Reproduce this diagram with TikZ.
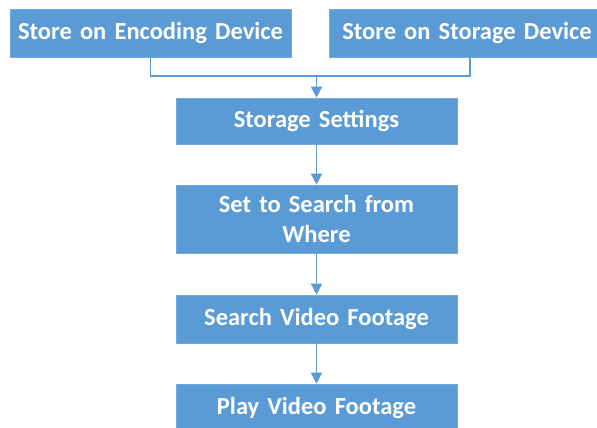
\documentclass[tikz,border=0pt]{standalone}
\usepackage{fontspec}
\setmainfont{Carlito}
\usetikzlibrary{arrows.meta,calc}
\definecolor{boxblue}{HTML}{5B9BD5}
\tikzset{
  flowbox/.style={fill=boxblue, draw=boxblue!85!white, line width=0.6pt, text=white,
    font=\bfseries\fontsize{24.5}{30}\selectfont, align=center, inner sep=0pt,
    minimum width=281pt, minimum height=48pt, text width=275pt},
  conn/.style={draw=boxblue, line width=1.4pt},
  arr/.style={conn, -{Triangle[width=11pt,length=11pt]}}
}
\begin{document}
\begin{tikzpicture}[x=1pt,y=-1pt]
\useasboundingbox (0,0) rectangle (597,428);
\node[flowbox] (b1) at (150.5,33) {Store on Encoding Device};
\node[flowbox, minimum width=268pt, text width=266pt] (b2) at (463,33) {\hspace*{8pt}Store on Storage Device};
\node[flowbox, minimum height=46pt] (b3) at (316.5,121) {Storage Settings};
\node[flowbox, minimum height=68pt] (b4) at (316.5,219) {Set to Search from\\Where};
\node[flowbox] (b5) at (316.5,319) {Search Video Footage};
\node[flowbox] (b6) at (316.5,408) {Play Video Footage};
\coordinate (j) at (316.5,76);
\coordinate (b2c) at ($(b2.south)+(7,0)$);
\draw[conn] (b1.south) |- (b2c |- j) -- (b2c);
\draw[arr] (j) -- (b3.north);
\draw[arr] (b3.south) -- (b4.north);
\draw[arr] (b4.south) -- (b5.north);
\draw[arr] (b5.south) -- (b6.north);
\end{tikzpicture}
\end{document}
